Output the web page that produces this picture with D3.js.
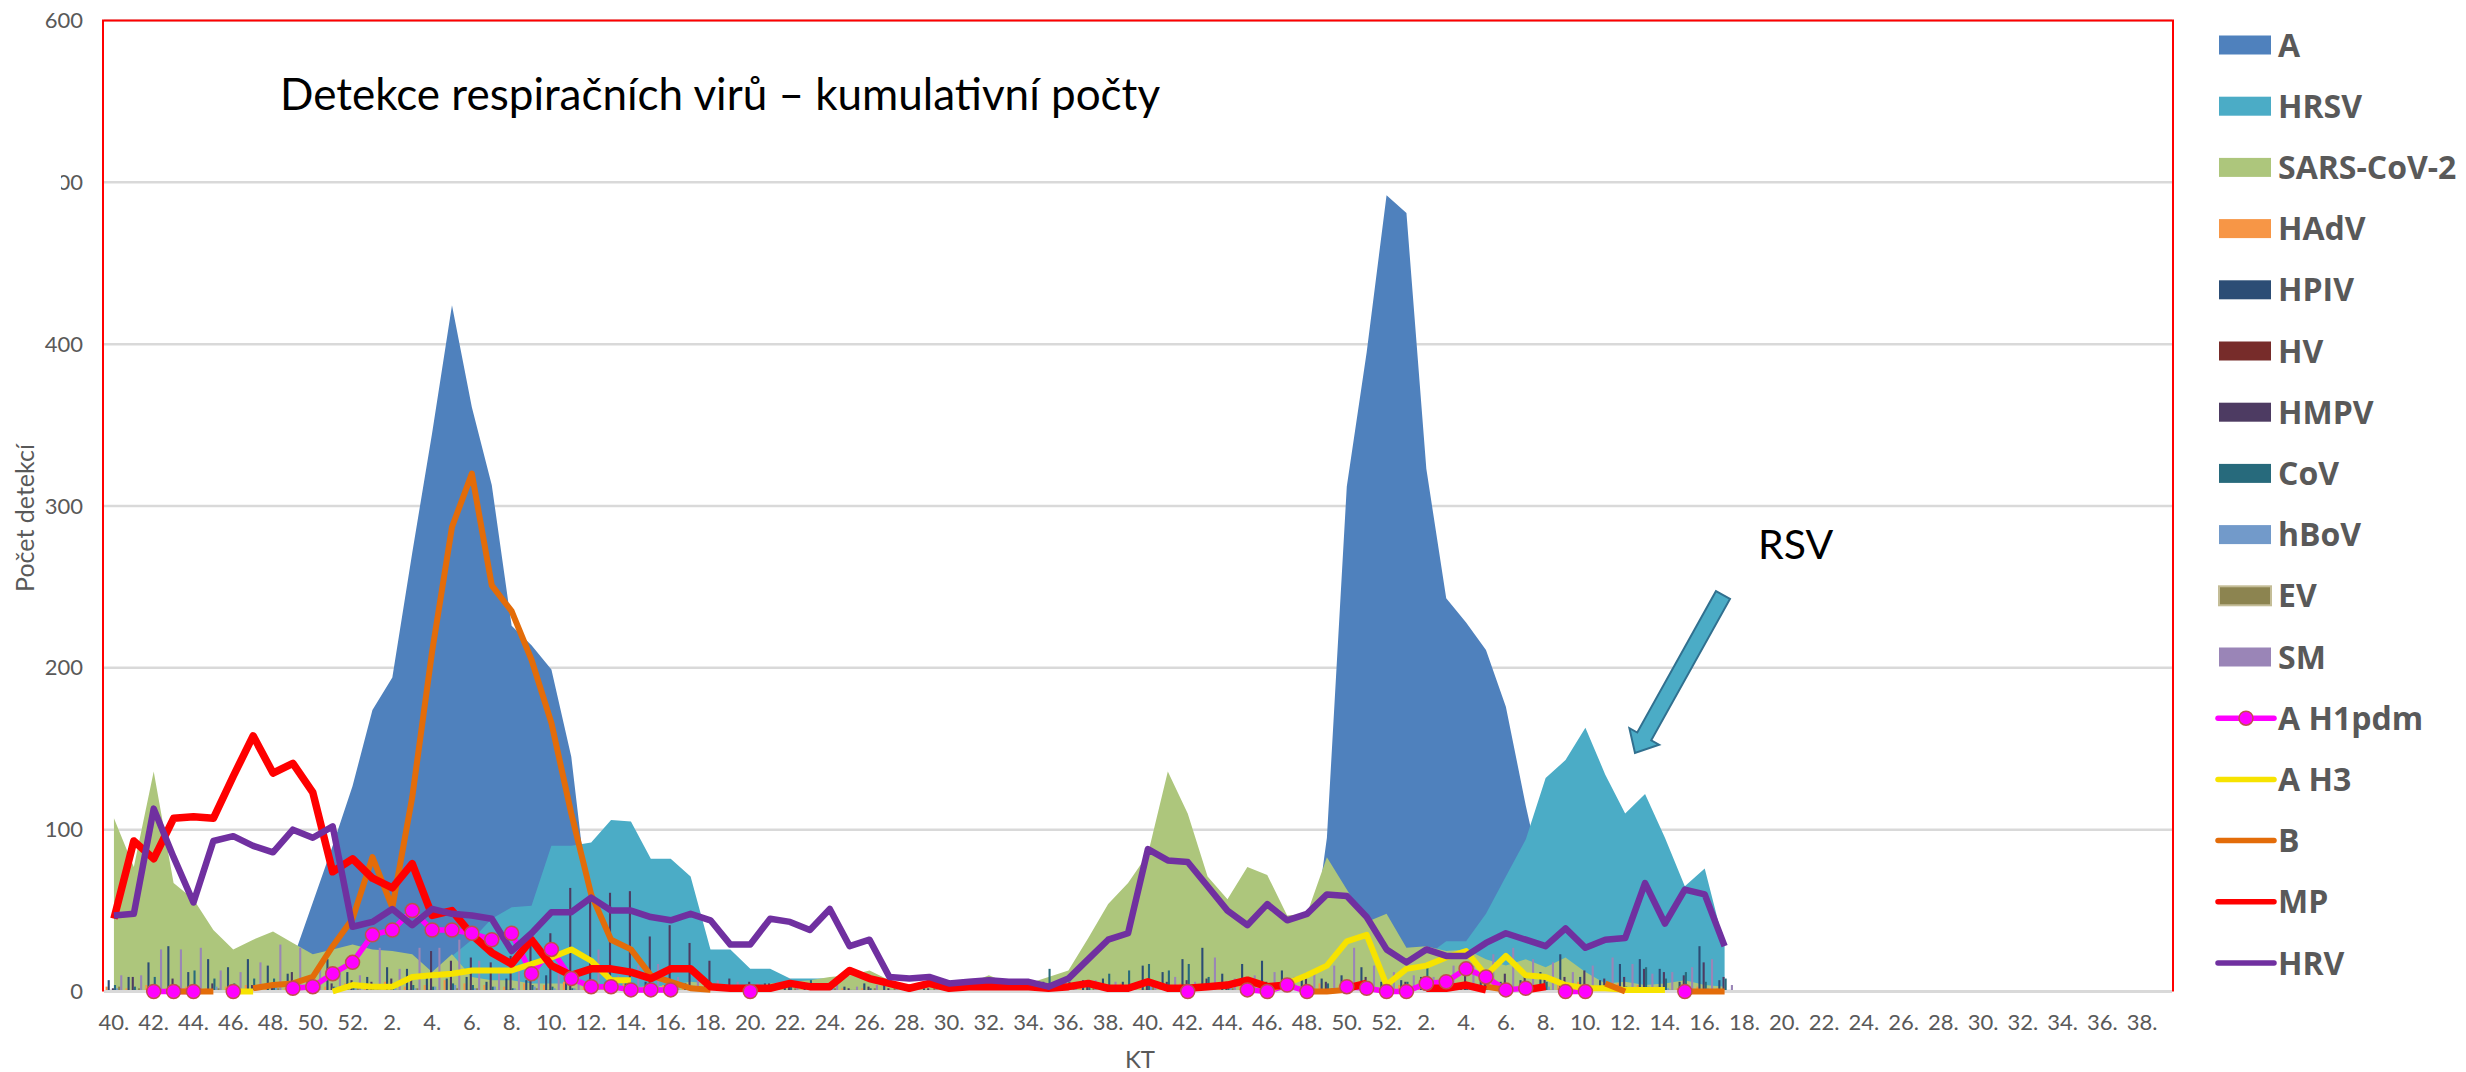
<!DOCTYPE html>
<html>
<head>
<meta charset="utf-8">
<script src="https://cdn.jsdelivr.net/npm/d3@7"></script>
<style>
  body { margin: 0; background: #fff; }
  text { font-family: Lato, "Open Sans", sans-serif; }
</style>
</head>
<body>
<svg id="chart" width="2466" height="1072"></svg>
<script>
// weeks of one season (KT), two seasons on the axis
var season = [40,41,42,43,44,45,46,47,48,49,50,51,52,1,2,3,4,5,6,7,8,9,10,11,12,13,14,15,16,17,18,19,20,21,22,23,24,25,26,27,28,29,30,31,32,33,34,35,36,37,38,39];
var weeks = season.concat(season);
var yTicks = [0, 100, 200, 300, 400, 500, 600];

// area series
var A = [0,0,0,0,0,0,0,0,0,20,
  55,90,127,174,194,271,345,424,361,313,
  226,214,199,145,40,20,12,8,5,4,
  2,1,1,0,0,0,0,0,0,0,
  0,0,0,0,0,0,0,0,0,0,
  0,0,0,0,0,0,0,0,0,0,
  5,95,312,395,492,481,323,243,228,211,
  176,115,60,30,15,10,6,4,3,2,
  1,1];
var HRSV = [2,1,2,1,2,1,2,2,3,3,
  2,3,4,5,6,8,10,22,32,45,
  52,53,90,90,92,106,105,82,82,71,
  26,26,14,14,8,8,8,3,2,2,
  1,1,1,1,1,1,1,1,1,1,
  1,1,1,1,1,1,1,2,2,2,
  3,3,4,5,8,14,22,31,31,48,
  71,94,132,143,163,134,110,122,95,65,
  76,28];
var SARS = [107,77,136,67,57,38,26,32,37,30,
  23,26,29,26,25,23,12,23,9,7,
  7,5,5,5,4,4,3,3,4,6,
  5,4,3,5,6,7,9,10,13,7,
  3,4,3,5,10,5,5,9,13,33,
  54,67,85,136,110,71,57,77,72,47,
  48,83,63,43,48,27,28,25,26,20,
  16,20,15,21,12,5,6,4,5,7,
  4,3];

// column series
var HAdV = [3,2,4,2,3,2,3,4,3,2,
  4,3,5,4,6,3,4,7,5,4,
  3,5,4,6,3,4,5,3,4,2,
  3,2,3,2,1,2,3,2,2,1,
  2,1,2,1,2,2,3,2,3,4,
  3,5,6,4,5,3,4,6,5,4,
  3,5,4,3,2,4,3,5,4,3,
  4,2,3,4,6,3,5,4,3,2,
  3,2];
var HPIV = [7,9,18,28,12,20,15,20,16,11,
  8,20,12,9,15,14,10,8,9,6,
  8,7,10,6,5,6,5,6,4,5,
  4,3,4,5,6,3,4,3,5,4,
  3,2,4,3,5,4,3,6,5,7,
  8,6,16,12,20,27,11,17,19,13,
  7,8,10,15,6,7,9,6,5,8,
  6,7,12,23,9,7,17,20,14,6,
  28,7];
var HV = [1,0,1,0,1,1,0,1,0,1,
  1,0,1,1,0,1,1,0,1,0,
  1,0,1,0,1,0,0,1,0,0,
  0,1,0,0,0,0,1,0,0,0,
  0,0,1,0,0,0,0,1,0,0,
  1,0,1,0,1,1,0,1,0,1,
  0,1,0,1,0,1,1,0,1,0,
  1,0,1,0,1,0,1,0,1,0,
  1,0];
var HMPV = [2,9,3,8,4,5,3,4,5,12,
  6,5,7,6,8,10,25,19,21,18,
  22,30,36,64,56,61,62,34,41,30,
  19,8,6,5,4,3,3,2,3,2,
  1,2,1,2,3,2,3,2,3,4,
  3,4,5,6,7,8,6,7,6,5,
  8,6,7,9,8,6,7,8,10,9,
  11,12,10,9,13,8,9,14,12,10,
  18,9];
var CoV = [4,3,9,2,13,8,5,8,8,4,
  5,3,4,3,2,4,3,5,4,3,
  2,4,3,2,3,2,2,3,2,2,
  1,2,1,2,3,7,2,1,2,1,
  2,1,2,1,3,2,4,14,6,5,
  11,13,17,13,17,9,6,8,5,6,
  4,5,6,4,5,6,15,5,4,6,
  5,4,6,5,4,5,3,15,8,12,
  6,8];
var hBoV = [2,1,3,2,2,3,1,2,3,2,
  2,3,2,4,3,2,3,4,2,3,
  2,3,2,2,3,2,1,2,2,1,
  1,1,2,1,1,1,2,1,1,1,
  1,1,1,1,1,2,1,1,2,1,
  2,2,3,2,3,2,3,2,3,4,
  3,2,3,4,3,2,3,4,3,2,
  3,2,3,4,2,3,2,3,2,3,
  2,1];
var EV = [3,2,2,3,1,2,2,1,2,3,
  2,1,2,2,1,2,1,2,2,1,
  1,2,1,1,2,1,1,2,1,1,
  2,1,2,3,2,3,2,1,2,3,
  2,3,2,3,4,3,2,3,4,3,
  4,3,4,3,2,3,2,3,2,2,
  3,2,2,1,2,1,2,1,2,1,
  1,2,1,2,1,1,2,1,1,2,
  1,1];
var SM = [10,10,26,26,27,13,12,18,29,27,
  14,12,10,27,14,27,27,32,19,15,
  13,16,12,14,26,10,16,17,9,8,
  7,6,5,6,4,5,4,3,4,3,
  2,3,2,4,3,4,5,6,5,7,
  6,5,4,9,6,21,8,10,12,9,
  11,16,27,16,12,10,9,16,16,23,
  27,20,18,12,16,21,17,11,12,15,
  20,4];

// line series (null = no value)
var H1pdm = [null,null,0,0,0,null,0,null,null,2,
  3,11,18,35,38,50,38,38,36,32,
  36,11,26,8,3,3,1,1,1,null,
  null,null,0,null,null,null,null,null,null,null,
  null,null,null,null,null,null,null,null,null,null,
  null,null,null,null,0,null,null,1,0,4,
  0,null,3,2,0,0,5,6,14,9,
  1,2,null,0,0,null,null,null,null,0,
  null,null];
var H3 = [null,null,null,null,null,null,0,0,null,null,
  null,0,4,3,3,9,10,11,13,13,
  13,17,21,26,19,7,7,null,null,null,
  null,null,null,null,null,null,null,null,null,null,
  null,null,null,null,null,null,null,null,null,null,
  null,null,null,null,null,null,null,null,1,5,
  10,16,31,35,4,14,16,21,25,10,
  22,10,9,4,2,2,1,1,1,null,
  null,null];
var B = [null,null,null,0,0,0,null,2,4,5,
  9,28,45,83,52,120,210,287,320,251,
  235,205,166,110,60,32,26,10,6,2,
  1,null,null,null,null,null,null,null,null,null,
  null,null,null,null,null,null,null,null,null,null,
  null,null,null,null,null,null,null,null,null,null,
  0,0,1,null,null,null,null,null,null,3,
  1,null,null,null,null,5,0,null,null,0,
  0,0];
var MP = [45,93,82,107,108,107,133,158,135,141,
  123,74,82,70,64,79,47,50,35,24,
  17,32,16,10,14,14,12,8,14,14,
  3,2,2,2,5,3,3,13,8,5,
  2,5,2,3,3,3,3,2,3,5,
  2,2,6,2,2,3,4,7,3,4,
  null,null,2,5,null,null,2,2,4,1,
  null,1,3,null,null,null,null,null,null,null,
  null,null];
var HRV = [47,48,113,83,55,93,96,90,86,100,
  95,102,40,43,51,41,51,48,47,45,
  25,36,49,49,58,50,50,46,44,48,
  44,29,29,45,43,38,51,28,32,9,
  8,9,5,6,7,6,6,3,8,20,
  32,36,88,81,80,65,50,41,54,44,
  48,60,59,46,26,18,26,22,22,30,
  36,32,28,39,27,32,33,67,42,63,
  60,28];

var areaSeries = [
  { name: "A", values: A, color: "#4f81bd" },
  { name: "HRSV", values: HRSV, color: "#4bacc6" },
  { name: "SARS-CoV-2", values: SARS, color: "#adc67c" }
];
var barSeries = [
  { name: "HAdV", values: HAdV, color: "#f79646" },
  { name: "HPIV", values: HPIV, color: "#2c4d75" },
  { name: "HV", values: HV, color: "#772c2a" },
  { name: "HMPV", values: HMPV, color: "#4d3b62" },
  { name: "CoV", values: CoV, color: "#276a7c" },
  { name: "hBoV", values: hBoV, color: "#729aca" },
  { name: "EV", values: EV, color: "#8c8450" },
  { name: "SM", values: SM, color: "#9a85b7" }
];
var lineSeries = [
  { name: "A H1pdm", values: H1pdm, color: "#ff00ff", width: 5.5, marker: true },
  { name: "A H3", values: H3, color: "#f7e300", width: 6 },
  { name: "B", values: B, color: "#e36c09", width: 6 },
  { name: "MP", values: MP, color: "#ff0000", width: 7.5 },
  { name: "HRV", values: HRV, color: "#7030a0", width: 6.5 }
];

(function() {
var svg = d3.select("#chart");
var plotLeft = 104, plotRight = 2172, plotTop = 20.5, plotBottom = 991.5;

var x = d3.scaleBand().domain(d3.range(weeks.length)).range([plotLeft, plotRight]);
var cx = function(i) { return x(i) + x.bandwidth() / 2; };
var y = d3.scaleLinear().domain([0, 600]).range([plotBottom, plotTop]);

// gridlines
svg.append("g").selectAll("line")
  .data(yTicks.filter(function(v) { return v > 0; }))
  .join("line")
  .attr("x1", plotLeft).attr("x2", plotRight)
  .attr("y1", function(d) { return y(d); }).attr("y2", function(d) { return y(d); })
  .attr("stroke", "#d9d9d9").attr("stroke-width", 2.5);

// areas (overlapping, not stacked)
var area = d3.area()
  .defined(function(d) { return d != null; })
  .x(function(d, i) { return cx(i); })
  .y0(y(0))
  .y1(function(d) { return y(d); });

svg.append("g").selectAll("path")
  .data(areaSeries)
  .join("path")
  .attr("d", function(s) { return area(s.values); })
  .attr("fill", function(s) { return s.color; });

// thin clustered columns
var groupW = x.bandwidth() * barSeries.length / (barSeries.length + 1.5);
var inner = d3.scaleBand().domain(barSeries.map(function(s) { return s.name; }))
  .range([-groupW / 2, groupW / 2]);

barSeries.forEach(function(s) {
  svg.append("g").selectAll("rect")
    .data(s.values.map(function(v, i) { return { v: v, i: i }; }).filter(function(d) { return d.v > 0; }))
    .join("rect")
    .attr("x", function(d) { return cx(d.i) + inner(s.name); })
    .attr("width", inner.bandwidth())
    .attr("y", function(d) { return y(d.v); })
    .attr("height", function(d) { return y(0) - y(d.v); })
    .attr("fill", s.color);
});

// horizontal axis line
svg.append("line")
  .attr("x1", plotLeft).attr("x2", plotRight).attr("y1", y(0)).attr("y2", y(0))
  .attr("stroke", "#d9d9d9").attr("stroke-width", 3);

// lines
var line = d3.line()
  .defined(function(d) { return d != null; })
  .x(function(d, i) { return cx(i); })
  .y(function(d) { return y(d); });

svg.append("g").selectAll("path")
  .data(lineSeries)
  .join("path")
  .attr("d", function(s) { return line(s.values); })
  .attr("fill", "none")
  .attr("stroke", function(s) { return s.color; })
  .attr("stroke-width", function(s) { return s.width; })
  .attr("stroke-linejoin", "round");

// markers of A H1pdm
svg.append("g").selectAll("circle")
  .data(H1pdm.map(function(v, i) { return { v: v, i: i }; }).filter(function(d) { return d.v != null; }))
  .join("circle")
  .attr("cx", function(d) { return cx(d.i); })
  .attr("cy", function(d) { return y(d.v); })
  .attr("r", 7)
  .attr("fill", "#ff00ff")
  .attr("stroke", "#c0504d")
  .attr("stroke-width", 1.5);

// plot border (red)
svg.append("path")
  .attr("d", "M" + (plotLeft - 1) + "," + y(0) + "V" + plotTop + "H" + (plotRight + 1) + "V" + y(0))
  .attr("fill", "none").attr("stroke", "#ff0000").attr("stroke-width", 2);

// axes
var xAxis = d3.axisBottom(x)
  .tickValues(d3.range(0, weeks.length, 2))
  .tickFormat(function(i) { return weeks[i] + "."; })
  .tickSize(0).tickPadding(23);
var gx = svg.append("g").attr("transform", "translate(0," + y(0) + ")").call(xAxis);
gx.select(".domain").remove();
gx.selectAll("text").attr("fill", "#595959").style("font-size", "22px").style("font-family", "Lato");

var yAxis = d3.axisLeft(y).tickValues(yTicks).tickSize(0).tickPadding(21);
var gy = svg.append("g").attr("transform", "translate(" + plotLeft + ",0)").call(yAxis);
gy.select(".domain").remove();
gy.selectAll("text").attr("fill", "#595959").style("font-size", "22px").style("font-family", "Lato");

// the "500" label is partly hidden in the original
svg.append("rect").attr("x", 28).attr("y", y(500) - 15).attr("width", 33).attr("height", 30).attr("fill", "#fff");

// axis titles
svg.append("text")
  .attr("transform", "translate(25," + (y(300) + 12) + ") rotate(-90)")
  .attr("text-anchor", "middle").attr("dy", "0.35em")
  .attr("fill", "#595959").style("font-size", "25px")
  .text("Počet detekcí");
svg.append("text")
  .attr("x", 1140).attr("y", 1068)
  .attr("text-anchor", "middle")
  .attr("fill", "#595959").style("font-size", "24px")
  .text("KT");

// chart title
svg.append("text")
  .attr("x", 280).attr("y", 110)
  .attr("fill", "#000").style("font-size", "44px")
  .text("Detekce respiračních virů – kumulativní počty");

// RSV annotation with block arrow
svg.append("text")
  .attr("x", 1758).attr("y", 559)
  .attr("fill", "#000").style("font-size", "41px")
  .text("RSV");

var tail = [1723, 595], tip = [1635, 753];
var dx = tip[0] - tail[0], dy = tip[1] - tail[1], len = Math.sqrt(dx * dx + dy * dy);
var ux = dx / len, uy = dy / len, nx = -uy, ny = ux;
var shaftW = 8, headW = 17, headL = 19;
var hx = tip[0] - ux * headL, hy = tip[1] - uy * headL;
var arrowPts = [
  [tail[0] + nx * shaftW, tail[1] + ny * shaftW],
  [hx + nx * shaftW, hy + ny * shaftW],
  [hx + nx * headW, hy + ny * headW],
  tip,
  [hx - nx * headW, hy - ny * headW],
  [hx - nx * shaftW, hy - ny * shaftW],
  [tail[0] - nx * shaftW, tail[1] - ny * shaftW]
];
svg.append("path")
  .attr("d", "M" + arrowPts.map(function(p) { return p.join(","); }).join("L") + "Z")
  .attr("fill", "#4bacc6").attr("stroke", "#31708f").attr("stroke-width", 2);

// legend
var legendItems = areaSeries.map(function(s) { return { name: s.name, color: s.color, type: "rect" }; })
  .concat(barSeries.map(function(s) { return { name: s.name, color: s.color, type: "rect" }; }))
  .concat(lineSeries.map(function(s) { return { name: s.name, color: s.color, type: "line", marker: s.marker }; }));

var lg = svg.append("g").attr("transform", "translate(2219,45)");
var item = lg.selectAll("g").data(legendItems).join("g")
  .attr("transform", function(d, i) { return "translate(0," + (i * 61.2) + ")"; });

item.filter(function(d) { return d.type === "rect"; })
  .append("rect")
  .attr("x", 0).attr("y", -9.5).attr("width", 52).attr("height", 19)
  .attr("fill", function(d) { return d.color; })
  .attr("stroke", function(d) { return d.name === "EV" ? "#c4bd97" : "none"; })
  .attr("stroke-width", 2);

item.filter(function(d) { return d.type === "line"; })
  .append("line")
  .attr("x1", -1).attr("x2", 55).attr("y1", 0).attr("y2", 0)
  .attr("stroke", function(d) { return d.color; })
  .attr("stroke-width", 5.5).attr("stroke-linecap", "round");

item.filter(function(d) { return d.marker; })
  .append("circle")
  .attr("cx", 27).attr("cy", 0).attr("r", 7)
  .attr("fill", "#ff00ff").attr("stroke", "#c0504d").attr("stroke-width", 1.5);

item.append("text")
  .attr("x", 59).attr("dy", "0.36em")
  .attr("fill", "#595959")
  .style("font-family", "'Open Sans', sans-serif")
  .style("font-weight", "bold").style("font-size", "32px")
  .text(function(d) { return d.name; });
})();
</script>
</body>
</html>
